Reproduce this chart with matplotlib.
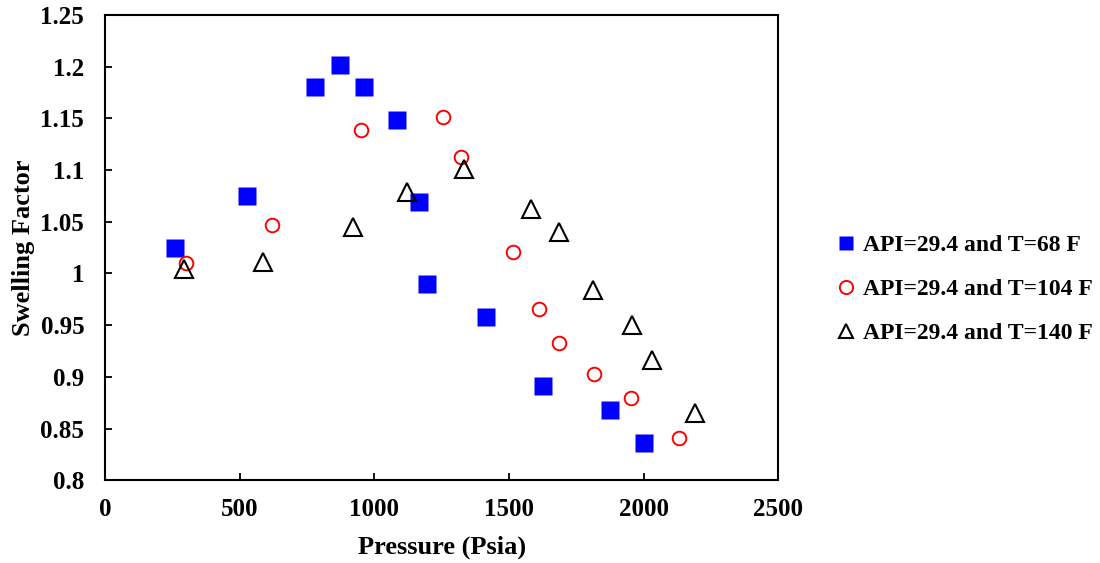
import matplotlib
matplotlib.use("Agg")
import matplotlib.pyplot as plt
from matplotlib.lines import Line2D

# Swelling factor measurements at three temperatures (API = 29.4)
p_68 = [259, 526, 781, 874, 963, 1085, 1167, 1196, 1415, 1626, 1874, 2000]
sf_68 = [1.025, 1.075, 1.180, 1.202, 1.180, 1.148, 1.069, 0.990, 0.958, 0.891, 0.868, 0.836]

p_104 = [300, 619, 952, 1256, 1322, 1515, 1611, 1685, 1815, 1952, 2130]
sf_104 = [1.010, 1.047, 1.139, 1.151, 1.113, 1.021, 0.966, 0.933, 0.903, 0.880, 0.841]

p_140 = [293, 585, 922, 1122, 1333, 1581, 1685, 1811, 1956, 2033, 2189]
sf_140 = [1.004, 1.011, 1.045, 1.079, 1.101, 1.062, 1.040, 0.984, 0.950, 0.916, 0.865]

labels = ["API=29.4 and T=68 F", "API=29.4 and T=104 F", "API=29.4 and T=140 F"]

x_ticks = [0, 500, 1000, 1500, 2000, 2500]
y_ticks = [0.8, 0.85, 0.9, 0.95, 1.0, 1.05, 1.1, 1.15, 1.2, 1.25]
y_tick_labels = ["0.8", "0.85", "0.9", "0.95", "1", "1.05", "1.1", "1.15", "1.2", "1.25"]

plt.rcParams["font.family"] = ["Liberation Serif", "DejaVu Serif"]
plt.rcParams["font.weight"] = "bold"

fig = plt.figure(figsize=(11, 5.63), dpi=100)
ax = fig.add_axes([0.0955, 0.147, 0.612, 0.8265])

ax.plot(p_68, sf_68, ls="none", marker="s", ms=13.5, mfc="#0000ff", mec="none")
ax.plot(p_104, sf_104, ls="none", marker="o", ms=9.8, mfc="none", mec="#ff0000", mew=1.4)
ax.plot(p_140, sf_140, ls="none", marker="^", ms=12.5, mfc="none", mec="black", mew=1.5)

ax.set_xlim(0, 2500)
ax.set_ylim(0.8, 1.25)
ax.set_xticks(x_ticks)
ax.set_xticklabels([str(v) for v in x_ticks])
ax.set_yticks(y_ticks)
ax.set_yticklabels(y_tick_labels)

for s in ax.spines.values():
    s.set_linewidth(1.5)
ax.tick_params(axis="both", direction="in", length=5, width=1.3, labelsize=18)
ax.tick_params(axis="y", pad=15)
ax.tick_params(axis="x", pad=13)

ax.set_xlabel("Pressure (Psia)", fontsize=19, fontweight="bold", labelpad=10)
ax.set_ylabel("Swelling Factor", fontsize=19, fontweight="bold", labelpad=4)

handles = [
    Line2D([], [], ls="none", marker="s", ms=9.5, mfc="#0000ff", mec="none"),
    Line2D([], [], ls="none", marker="o", ms=9.5, mfc="none", mec="#ff0000", mew=1.4),
    Line2D([], [], ls="none", marker="^", ms=10, mfc="none", mec="black", mew=1.5),
]
fig.legend(handles, labels, loc="center left", bbox_to_anchor=(0.752, 0.486),
           frameon=False, fontsize=17, handlelength=0.8, handletextpad=0.3,
           labelspacing=0.95, borderaxespad=0)

fig.savefig("out.png", dpi=100)
